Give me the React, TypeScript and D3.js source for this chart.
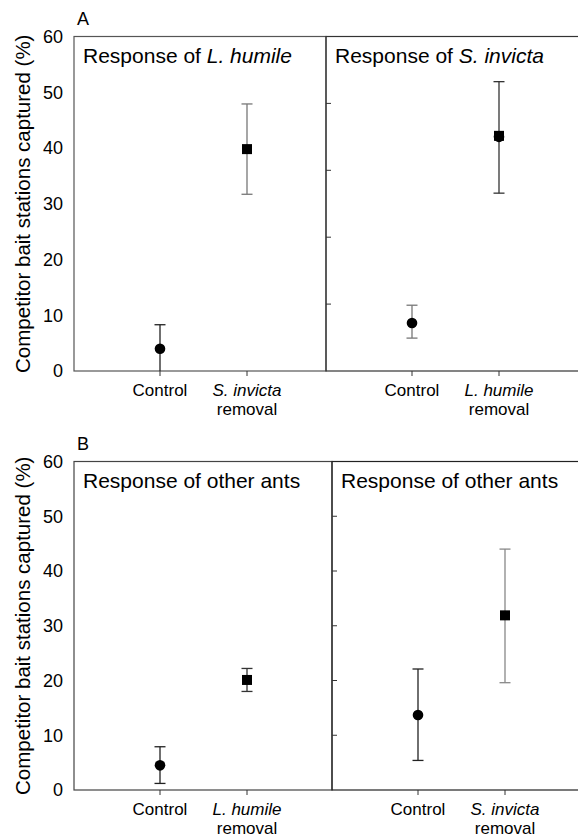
import * as d3 from 'd3';

// values (percent of competitor bait stations captured)
const groups = ['Control', 'removal'];
const yTicks = [0, 10, 20, 30, 40, 50, 60];
const innerTicksA = [12, 24, 36, 48];
const innerTicksB = [10, 20, 30, 40, 50];

const lhumileMean = [4.0, 39.8];
const lhumileLow = [0, 31.7];
const lhumileHigh = [8.3, 47.9];

const sinvictaMean = [8.6, 42.0];
const sinvictaLow = [5.9, 31.9];
const sinvictaHigh = [11.8, 51.9];

const otherLhMean = [4.5, 20.1];
const otherLhLow = [1.2, 18.0];
const otherLhHigh = [7.9, 22.2];

const otherSiMean = [13.7, 31.9];
const otherSiLow = [5.4, 19.6];
const otherSiHigh = [22.1, 44.0];

const FONT = '"Liberation Sans", Arial, Helvetica, sans-serif';

type Panel = {
  x0: number;
  x1: number;
  title: string;
  species?: string;
  removed: string;
  mean: number[];
  low: number[];
  high: number[];
  barColor: string[];
  markers: string[];
  innerTicks?: number[];
  frame: string;
};

type Row = {
  letter: string;
  top: number;
  bottom: number;
  panels: Panel[];
};

const rows: Row[] = [
  {
    letter: 'A',
    top: 36.5,
    bottom: 371,
    panels: [
      {
        x0: 74, x1: 326, title: 'Response of ', species: 'L. humile', removed: 'S. invicta',
        mean: lhumileMean, low: lhumileLow, high: lhumileHigh,
        barColor: ['#222', '#777'], markers: ['circle', 'square'], frame: '#555',
      },
      {
        x0: 326, x1: 580, title: 'Response of ', species: 'S. invicta', removed: 'L. humile',
        mean: sinvictaMean, low: sinvictaLow, high: sinvictaHigh,
        barColor: ['#777', '#333'], markers: ['circle', 'both'], innerTicks: innerTicksA, frame: '#333',
      },
    ],
  },
  {
    letter: 'B',
    top: 461.5,
    bottom: 790,
    panels: [
      {
        x0: 74, x1: 332, title: 'Response of other ants', removed: 'L. humile',
        mean: otherLhMean, low: otherLhLow, high: otherLhHigh,
        barColor: ['#222', '#333'], markers: ['circle', 'square'], frame: '#444',
      },
      {
        x0: 332, x1: 580, title: 'Response of other ants', removed: 'S. invicta',
        mean: otherSiMean, low: otherSiLow, high: otherSiHigh,
        barColor: ['#222', '#888'], markers: ['circle', 'square'], innerTicks: innerTicksB, frame: '#222',
      },
    ],
  },
];

function PanelView({ p, y }: { p: Panel; y: d3.ScaleLinear<number, number> }) {
  const x = d3.scalePoint<string>().domain(groups).range([p.x0 + 86, p.x0 + 173]);
  const [bottom, top] = y.range();
  const cap = 5.5;
  return (
    <g>
      <rect x={p.x0} y={top} width={p.x1 - p.x0} height={bottom - top}
        fill="none" stroke={p.frame} strokeWidth={1.2} />
      {(p.innerTicks || []).map(t => (
        <line key={t} x1={p.x0} x2={p.x0 + 5} y1={y(t)} y2={y(t)} stroke="#333" strokeWidth={1} />
      ))}
      {groups.map(g => (
        <line key={g} x1={x(g)} x2={x(g)} y1={bottom} y2={bottom + 5} stroke="#333" strokeWidth={1} />
      ))}
      <text x={p.x0 + 9} y={top + 26.5} fontSize={21} fontFamily={FONT}>
        {p.title}
        {p.species && <tspan fontStyle="italic">{p.species}</tspan>}
      </text>
      {groups.map((g, i) => {
        const cx = x(g) as number;
        const c = p.barColor[i];
        return (
          <g key={g}>
            <line x1={cx} x2={cx} y1={y(p.low[i])} y2={y(p.high[i])} stroke={c} strokeWidth={1.3} />
            <line x1={cx - cap} x2={cx + cap} y1={y(p.high[i])} y2={y(p.high[i])} stroke={c} strokeWidth={1.3} />
            {p.low[i] > 0 && (
              <line x1={cx - cap} x2={cx + cap} y1={y(p.low[i])} y2={y(p.low[i])} stroke={c} strokeWidth={1.3} />
            )}
            {(p.markers[i] === 'square' || p.markers[i] === 'both') && (
              <rect x={cx - 5} y={y(p.mean[i]) - (p.markers[i] === 'both' ? 6 : 5)} width={10} height={10} fill="#000" />
            )}
            {(p.markers[i] === 'circle' || p.markers[i] === 'both') && (
              <circle cx={cx} cy={y(p.mean[i])} r={5.3} fill="#000" />
            )}
          </g>
        );
      })}
      <text x={x('Control')} y={bottom + 25} fontSize={17} fontFamily={FONT} textAnchor="middle">Control</text>
      <text x={x('removal')} y={bottom + 25} fontSize={17} fontFamily={FONT} textAnchor="middle" fontStyle="italic">{p.removed}</text>
      <text x={x('removal')} y={bottom + 44} fontSize={17} fontFamily={FONT} textAnchor="middle">removal</text>
    </g>
  );
}

export default function App() {
  return (
    <svg width={578} height={838} style={{ position: 'absolute', left: 0, top: 0, background: '#fff' }}>
      <rect width={578} height={838} fill="#fff" />
      {rows.map(r => {
        const y = d3.scaleLinear().domain([0, 60]).range([r.bottom, r.top]);
        return (
          <g key={r.letter}>
            <text x={77} y={r.top - 11.5} fontSize={18} fontFamily={FONT}>{r.letter}</text>
            {yTicks.map(t => (
              <text key={t} x={63} y={y(t)} dy="0.36em" fontSize={18} fontFamily={FONT} textAnchor="end">{t}</text>
            ))}
            <text transform={`translate(30,${(r.top + r.bottom) / 2}) rotate(-90)`} fontSize={20.5}
              fontFamily={FONT} textAnchor="middle">Competitor bait stations captured (%)</text>
            {r.panels.map((p, i) => (
              <PanelView key={i} p={p} y={y} />
            ))}
          </g>
        );
      })}
    </svg>
  );
}
